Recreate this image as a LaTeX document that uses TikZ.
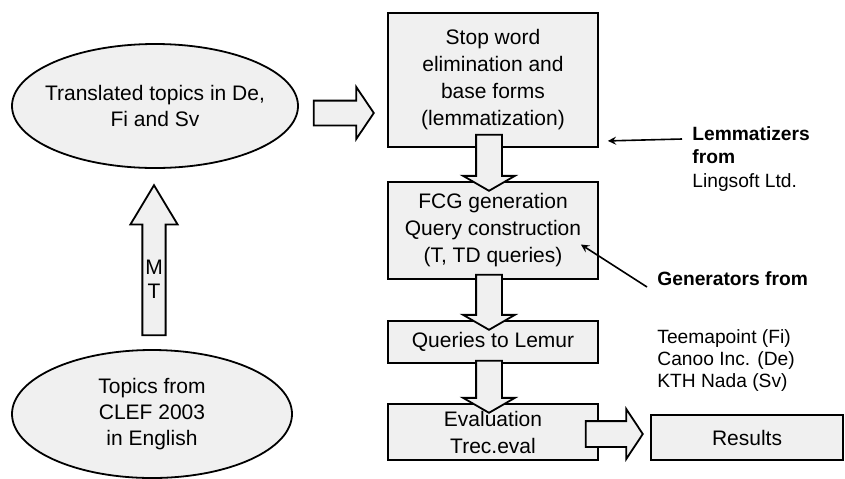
\documentclass[tikz,border=0pt]{standalone}
\usepackage{fontspec}
\setmainfont{Liberation Sans}
\usetikzlibrary{shapes.geometric,shapes.arrows}

\begin{document}
\begin{tikzpicture}[x=0.5pt, y=-0.5pt,
    ell/.style={draw, ellipse, line width=0.9pt, fill=gray!12, align=center, font=\fontsize{10.5}{13}\selectfont},
    stage/.style={draw, rectangle, line width=0.9pt, fill=gray!12, minimum width=105pt, inner ysep=2pt, align=center, font=\fontsize{10.5}{13.5}\selectfont},
    blk/.style={draw, single arrow, line width=0.9pt, fill=gray!12, inner sep=6pt, anchor=tail},
    downblk/.style={blk, shape border rotate=270, minimum width=25pt, single arrow head extend=6.5pt, single arrow tip angle=120},
    side/.style={anchor=base west, inner sep=0pt, font=\fontsize{9.6}{11.5}\selectfont},
    ptr/.style={->, >=stealth, line width=0.8pt}
]
\useasboundingbox (0,0) rectangle (845,478);

% Topics
\node[ell, minimum width=143pt, minimum height=62pt, inner xsep=-4.5pt] (transl) at (155,106) {Translated topics in De,\\Fi and Sv};
\node[ell, minimum width=140pt, minimum height=64pt] (topics) at (152,414) {Topics from\\CLEF 2003\\in English};

% Processing stages
\node[stage, minimum height=67pt] (lemma) at (493,80) {Stop word\\elimination and\\base forms\\(lemmatization)};
\node[stage, minimum height=48.5pt] (fcg) at (493,230.5) {FCG generation\\Query construction\\(T, TD queries)};
\node[stage, minimum height=21pt] (lemur) at (493,342) {Queries to Lemur};
\node[stage, minimum height=28pt] (eval) at (493,432) {Evaluation\\Trec.eval};
\node[stage, minimum width=96pt, minimum height=22.5pt] (results) at (747,437.5) {Results};

% Block arrows
\node[blk, shape border rotate=90, inner sep=1pt, minimum height=75pt, minimum width=23pt, single arrow head extend=6pt, single arrow tip angle=62, align=center, font=\fontsize{10.5}{12}\selectfont] (mt) at ([xshift=1pt,yshift=6.5pt]topics.north) {\mbox{}\\[5pt]M\\T};
\node[blk, inner sep=5.75pt, minimum height=30pt, minimum width=25pt, single arrow head extend=6.75pt, single arrow tip angle=112] (toproc) at ([xshift=7pt,yshift=-3.5pt]transl.east) {};
\node[downblk, minimum height=28pt] (down1) at ([xshift=-2pt,yshift=7pt]lemma.south) {};
\node[downblk, minimum height=27.5pt] (down2) at ([xshift=-2pt,yshift=3pt]fcg.south) {};
\node[downblk, minimum height=26pt] (down3) at ([xshift=-2pt,yshift=2pt]lemur.south) {};
\node[blk, minimum height=28.5pt, minimum width=24pt, single arrow head extend=6pt, single arrow tip angle=113] (tores) at ([xshift=-7pt,yshift=-1pt]eval.east) {};

% Tools
\node[side, font=\fontsize{9.6}{11.5}\selectfont\bfseries] (lemm) at (692,140) {Lemmatizers};
\node[side, font=\fontsize{9.6}{11.5}\selectfont\bfseries] (lemmfrom) at (692,163) {from};
\node[side] (lingsoft) at (692,187) {Lingsoft Ltd.};
\node[side, font=\fontsize{9.6}{11.5}\selectfont\bfseries] (gen) at (657,285) {Generators from};
\node[side] (teema) at (657,343) {Teemapoint (Fi)};
\node[side] (canoo) at (657,365) {Canoo Inc. (De)};
\node[side] (kth) at (657,387) {KTH Nada (Sv)};

\coordinate (lemmend) at ([xshift=4.5pt,yshift=3.5pt]lemma.south east);
\coordinate (genend) at ([xshift=-9pt,yshift=-7pt]fcg.east);
\draw[ptr] ([xshift=-5pt,yshift=0.5pt]lemm.base west) -- (lemmend);
\draw[ptr] ([xshift=-5pt,yshift=-1pt]gen.base west) -- (genend);

\end{tikzpicture}
\end{document}
